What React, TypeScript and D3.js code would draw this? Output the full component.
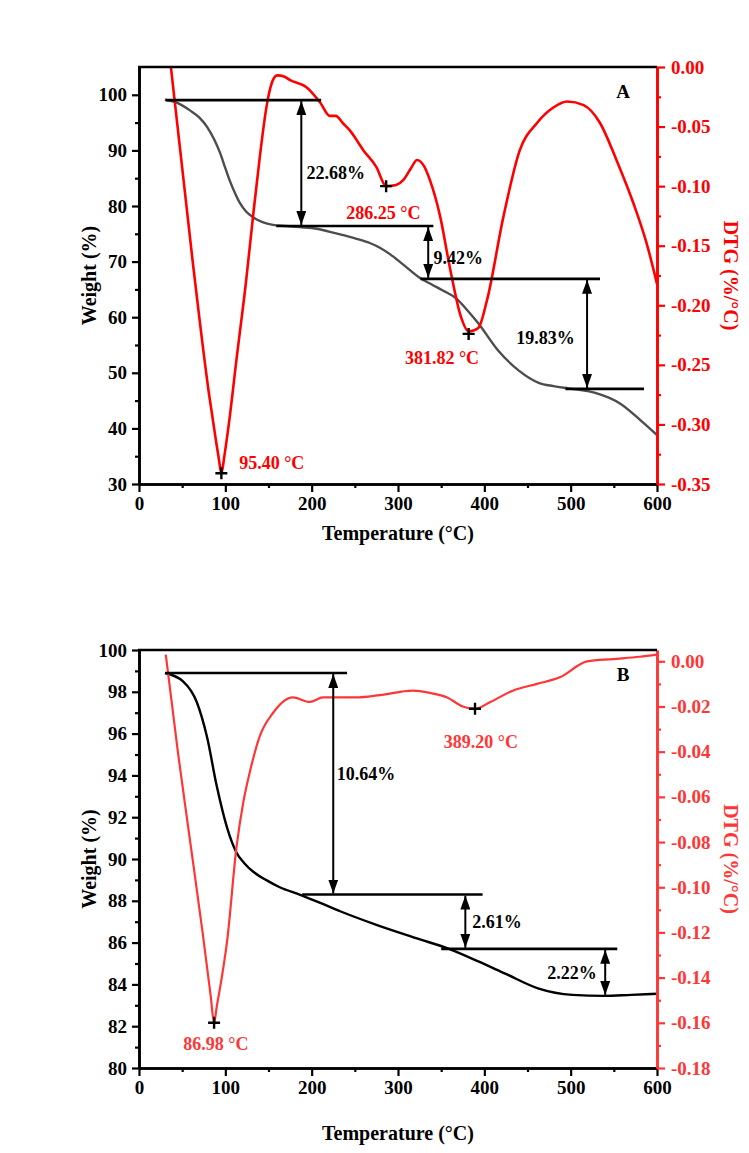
import React, { useEffect, useRef } from "react";
import * as d3 from "d3";

const width = 749;
const height = 1153;
const FONT = "'Liberation Serif', 'Times New Roman', serif";

// ---- panel A : TG (weight %) ----
const tgTempA = [30, 45, 59, 70, 79, 87, 94, 100, 105, 111, 117, 124, 132, 143, 155, 170, 186, 206, 220, 233, 252, 268, 279, 291, 305, 326, 340, 352, 368, 380, 393, 416, 440, 463, 480, 497, 520, 534, 558, 582, 600];
const tgWeightA = [99.1, 98.5, 97.2, 95.9, 94.2, 92.0, 89.5, 86.8, 84.6, 82.4, 80.5, 79.0, 78.0, 77.1, 76.6, 76.4, 76.2, 75.9, 75.4, 74.9, 74.1, 73.3, 72.5, 71.3, 69.6, 67.0, 65.8, 64.8, 63.3, 61.3, 58.9, 54.0, 50.4, 48.2, 47.6, 47.2, 46.7, 46.1, 44.4, 41.3, 38.8];
// ---- panel A : DTG ----
const dtgTempA = [36, 62, 81, 89, 92.5, 95.4, 99, 104, 113, 124, 132, 140, 148, 154, 160, 168, 175, 194, 210, 221, 228, 236, 244, 260, 275, 286.25, 298, 306, 315, 322, 330, 337, 349, 360, 373, 381.82, 393, 403, 422, 441, 461, 480, 496, 515, 534, 553, 573, 588, 600];
const dtgValA = [0.006, -0.162, -0.274, -0.313, -0.329, -0.341, -0.326, -0.3, -0.245, -0.18, -0.126, -0.075, -0.032, -0.013, -0.007, -0.008, -0.011, -0.017, -0.03, -0.041, -0.041, -0.047, -0.053, -0.07, -0.084, -0.1, -0.099, -0.095, -0.085, -0.078, -0.083, -0.095, -0.126, -0.168, -0.21, -0.222, -0.219, -0.196, -0.126, -0.07, -0.047, -0.034, -0.029, -0.032, -0.047, -0.078, -0.115, -0.148, -0.182];
const peakTempA = [95.4, 286.25, 381.82];
const peakValA = [-0.341, -0.1, -0.224];
const peakLabelsA = ["95.40 °C", "286.25 °C", "381.82 °C"];
const stepLevelsA = [99.05, 76.4, 66.9, 47.1];
const lossLabelsA = ["22.68%", "9.42%", "19.83%"];

// ---- panel B : TG ----
const tgTempB = [30, 51, 67, 79, 90, 102, 113, 122, 132, 147, 163, 186, 210, 233, 275, 322, 359, 393, 425, 463, 502, 539, 570, 600];
const tgWeightB = [98.9, 98.5, 97.5, 95.8, 93.5, 91.5, 90.3, 89.8, 89.4, 89.0, 88.65, 88.3, 87.9, 87.5, 86.85, 86.2, 85.7, 85.1, 84.5, 83.8, 83.5, 83.45, 83.5, 83.55];
// ---- panel B : DTG ----
const dtgTempB = [31, 45, 59, 74, 83, 86.98, 90, 95, 102, 113, 121, 129, 140, 155, 178, 198, 213, 233, 252, 279, 317, 337, 357, 375, 389.2, 407, 433, 461, 488, 519, 549, 580, 600];
const dtgValB = [0.003, -0.04, -0.079, -0.121, -0.148, -0.16, -0.153, -0.142, -0.124, -0.082, -0.062, -0.048, -0.033, -0.023, -0.016, -0.018, -0.016, -0.016, -0.016, -0.015, -0.013, -0.014, -0.016, -0.02, -0.021, -0.018, -0.013, -0.01, -0.007, 0.0, 0.001, 0.002, 0.003];
const peakTempB = [86.98, 389.2];
const peakValB = [-0.16, -0.021];
const peakLabelsB = ["86.98 °C", "389.20 °C"];
const stepLevelsB = [98.9, 88.3, 85.7, 83.45];
const lossLabelsB = ["10.64%", "2.61%", "2.22%"];

const tempTicks = d3.range(0, 601, 100);

const panels = [
  {
    name: "A",
    top: 67,
    bottom: 484,
    wDomain: [30, 105],
    wTicks: d3.range(30, 101, 10),
    wMinor: d3.range(35, 100, 10),
    dDomain: [-0.35, 0],
    dTicks: d3.range(0, 8).map((i) => -i * 0.05),
    dMinor: d3.range(0, 7).map((i) => -0.025 - i * 0.05),
    tgT: tgTempA, tgW: tgWeightA, dT: dtgTempA, dV: dtgValA,
    tgColor: "#4d4d4d", red: "#ff0000", redWidth: 2.6,
    peakT: peakTempA, peakV: peakValA, peakLabels: peakLabelsA,
    // label anchors in (temperature, weight) units
    peakPos: [[116, 32.7, "start"], [283, 77.6, "middle"], [351, 51.6, "middle"]],
    levels: stepLevelsA, losses: lossLabelsA,
    lineSpan: [[31, 211], [159, 341], [326, 534], [494, 585]],
    arrowT: [188, 335, 519],
    lossPos: [[194, 84.8], [341, 69.5], [437, 55.1]],
    titleY: 540,
  },
  {
    name: "B",
    top: 650,
    bottom: 1068,
    wDomain: [80, 100],
    wTicks: d3.range(80, 101, 2),
    wMinor: d3.range(81, 100, 2),
    dDomain: [-0.18, 0.005],
    dTicks: d3.range(0, 10).map((i) => -i * 0.02),
    dMinor: d3.range(0, 9).map((i) => -0.01 - i * 0.02),
    tgT: tgTempB, tgW: tgWeightB, dT: dtgTempB, dV: dtgValB,
    tgColor: "#000000", red: "#ff3636", redWidth: 2.2,
    peakT: peakTempB, peakV: peakValB, peakLabels: peakLabelsB,
    peakPos: [[89, 80.86, "middle"], [396, 95.3, "middle"]],
    levels: stepLevelsB, losses: lossLabelsB,
    lineSpan: [[31, 241], [189, 398], [350, 554]],
    arrowT: [225, 378, 540],
    lossPos: [[229, 93.8], [386, 86.7], [473, 84.26]],
    titleY: 1140,
  },
];

const left = 139;
const right = 657;

export default function App() {
  const svgRef = useRef<SVGSVGElement>(null);

  useEffect(() => {
    const svg = d3.select(svgRef.current);
    svg.selectAll("*").remove();

    const defs = svg.append("defs");
    defs
      .append("marker")
      .attr("id", "arrow")
      .attr("viewBox", "0 0 14 10")
      .attr("refX", 14)
      .attr("refY", 5)
      .attr("markerUnits", "userSpaceOnUse")
      .attr("markerWidth", 14)
      .attr("markerHeight", 10)
      .attr("orient", "auto-start-reverse")
      .append("path")
      .attr("d", "M0,0 L14,5 L0,10 Z")
      .attr("fill", "#000");

    const x = d3.scaleLinear().domain([0, 600]).range([left, right]);

    panels.forEach((p, pi) => {
      const yL = d3.scaleLinear().domain(p.wDomain).range([p.bottom, p.top]);
      const yR = d3.scaleLinear().domain(p.dDomain).range([p.bottom, p.top]);
      const g = svg.append("g");

      defs
        .append("clipPath")
        .attr("id", "clip" + pi)
        .append("rect")
        .attr("x", left)
        .attr("y", p.top)
        .attr("width", right - left)
        .attr("height", p.bottom - p.top);

      // curves
      const tgLine = d3
        .line<number>()
        .x((d, i) => x(p.tgT[i]))
        .y((d) => yL(d))
        .curve(d3.curveMonotoneX);
      const dtgLine = d3
        .line<number>()
        .x((d, i) => x(p.dT[i]))
        .y((d) => yR(d))
        .curve(d3.curveMonotoneX);

      g.append("path")
        .attr("d", tgLine(p.tgW))
        .attr("fill", "none")
        .attr("stroke", p.tgColor)
        .attr("stroke-width", 2.4)
        .attr("clip-path", `url(#clip${pi})`);

      g.append("path")
        .attr("d", dtgLine(p.dV))
        .attr("fill", "none")
        .attr("stroke", p.red)
        .attr("stroke-width", p.redWidth)
        .attr("clip-path", `url(#clip${pi})`);

      // step lines
      p.lineSpan.forEach((s, i) => {
        g.append("line")
          .attr("x1", x(s[0]))
          .attr("x2", x(s[1]))
          .attr("y1", yL(p.levels[i]))
          .attr("y2", yL(p.levels[i]))
          .attr("stroke", "#000")
          .attr("stroke-width", 2.6);
      });

      // double arrows
      p.arrowT.forEach((t, i) => {
        g.append("line")
          .attr("x1", x(t))
          .attr("x2", x(t))
          .attr("y1", yL(p.levels[i]) + 1)
          .attr("y2", yL(p.levels[i + 1]) - 1)
          .attr("stroke", "#000")
          .attr("stroke-width", 2)
          .attr("marker-start", "url(#arrow)")
          .attr("marker-end", "url(#arrow)");
        g.append("text")
          .attr("x", x(p.lossPos[i][0]))
          .attr("y", yL(p.lossPos[i][1]))
          .text(p.losses[i])
          .attr("font-family", FONT)
          .attr("font-weight", "bold")
          .attr("font-size", 18)
          .attr("fill", "#000");
      });

      // peak markers
      p.peakT.forEach((t, i) => {
        const cx = x(t);
        const cy = yR(p.peakV[i]);
        g.append("path")
          .attr("d", `M${cx - 6},${cy}H${cx + 6}M${cx},${cy - 6}V${cy + 6}`)
          .attr("stroke", "#000")
          .attr("stroke-width", 2.4);
        const pos = p.peakPos[i];
        g.append("text")
          .attr("x", x(pos[0] as number))
          .attr("y", yL(pos[1] as number))
          .attr("text-anchor", pos[2] as string)
          .text(p.peakLabels[i])
          .attr("font-family", FONT)
          .attr("font-weight", "bold")
          .attr("font-size", 18)
          .attr("fill", p.red);
      });

      // axes
      const styleAxis = (sel, color) => {
        sel.select(".domain").attr("stroke", color).attr("stroke-width", 2.6);
        sel.selectAll(".tick line").attr("stroke", color).attr("stroke-width", 2.2);
        sel
          .selectAll("text")
          .attr("fill", color)
          .attr("font-family", FONT)
          .attr("font-weight", "bold")
          .attr("font-size", 19);
      };

      const bottomAxis = g
        .append("g")
        .attr("transform", `translate(0,${p.bottom})`)
        .call(d3.axisBottom(x).tickValues(tempTicks).tickSize(8).tickSizeOuter(0).tickPadding(5).tickFormat((d) => String(d)));
      styleAxis(bottomAxis, "#000");
      const bottomMinor = g
        .append("g")
        .attr("transform", `translate(0,${p.bottom})`)
        .call(d3.axisBottom(x).tickValues(d3.range(50, 600, 100)).tickSize(4).tickSizeOuter(0).tickFormat(() => ""));
      styleAxis(bottomMinor, "#000");

      const leftAxis = g
        .append("g")
        .attr("transform", `translate(${left},0)`)
        .call(d3.axisLeft(yL).tickValues(p.wTicks).tickSize(7).tickSizeOuter(0).tickPadding(5).tickFormat((d) => String(d)));
      styleAxis(leftAxis, "#000");
      const leftMinor = g
        .append("g")
        .attr("transform", `translate(${left},0)`)
        .call(d3.axisLeft(yL).tickValues(p.wMinor).tickSize(4).tickSizeOuter(0).tickFormat(() => ""));
      styleAxis(leftMinor, "#000");

      const rightAxis = g
        .append("g")
        .attr("transform", `translate(${right},0)`)
        .call(d3.axisRight(yR).tickValues(p.dTicks).tickSize(8).tickSizeOuter(0).tickPadding(6).tickFormat((d) => (+d).toFixed(2).replace("-0.00", "0.00")));
      styleAxis(rightAxis, p.red);
      const rightMinor = g
        .append("g")
        .attr("transform", `translate(${right},0)`)
        .call(d3.axisRight(yR).tickValues(p.dMinor).tickSize(4).tickSizeOuter(0).tickFormat(() => ""));
      styleAxis(rightMinor, p.red);

      // top frame
      g.append("line")
        .attr("x1", left - 1)
        .attr("x2", right)
        .attr("y1", p.top)
        .attr("y2", p.top)
        .attr("stroke", "#000")
        .attr("stroke-width", 2.6);

      // titles
      const mid = (p.top + p.bottom) / 2;
      g.append("text")
        .attr("transform", `translate(96,${mid}) rotate(-90)`)
        .attr("text-anchor", "middle")
        .text("Weight (%)")
        .attr("font-family", FONT)
        .attr("font-weight", "bold")
        .attr("font-size", 20)
        .attr("fill", "#000");
      g.append("text")
        .attr("transform", `translate(724,${mid}) rotate(90)`)
        .attr("text-anchor", "middle")
        .text("DTG (%/°C)")
        .attr("font-family", FONT)
        .attr("font-weight", "bold")
        .attr("font-size", 20)
        .attr("fill", p.red);
      g.append("text")
        .attr("x", (left + right) / 2)
        .attr("y", p.titleY)
        .attr("text-anchor", "middle")
        .text("Temperature (°C)")
        .attr("font-family", FONT)
        .attr("font-weight", "bold")
        .attr("font-size", 20)
        .attr("fill", "#000");
      g.append("text")
        .attr("x", 623)
        .attr("y", p.top + 31)
        .attr("text-anchor", "middle")
        .text(p.name)
        .attr("font-family", FONT)
        .attr("font-weight", "bold")
        .attr("font-size", 19)
        .attr("fill", "#000");
    });
  }, []);

  return (
    <svg
      ref={svgRef}
      width={width}
      height={height}
      style={{ position: "absolute", left: 0, top: 0, background: "#fff" }}
    ></svg>
  );
}
